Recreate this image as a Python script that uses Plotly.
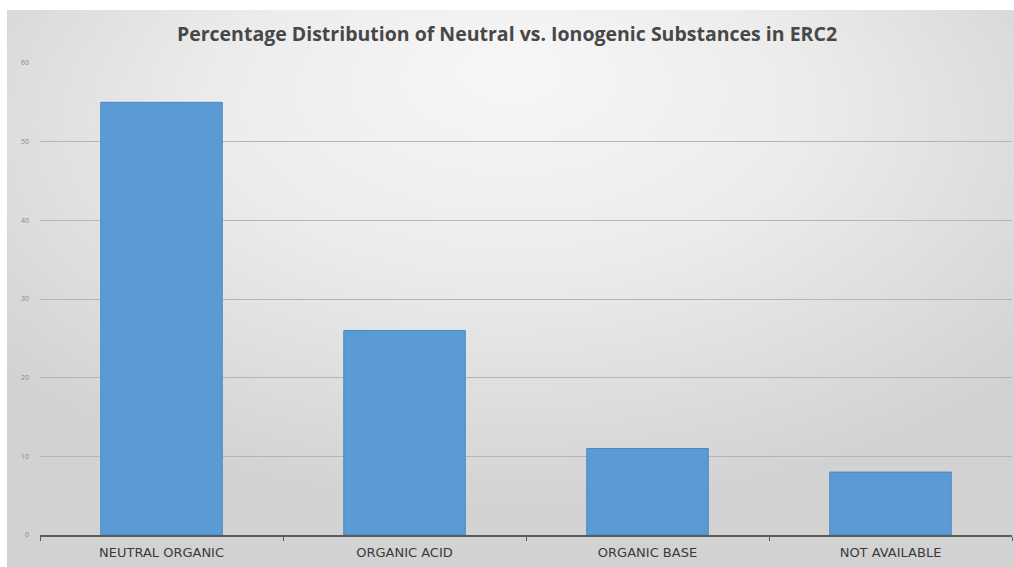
import base64
import plotly.graph_objects as go

# Category data (percent of substances)
categories = ["NEUTRAL ORGANIC", "ORGANIC ACID", "ORGANIC BASE", "NOT AVAILABLE"]
percentages = [55, 26, 11, 8]
y_ticks = [0, 10, 20, 30, 40, 50, 60]

W, H = 1014, 567

# Soft grey radial backdrop for the chart frame
svg = """<svg xmlns='http://www.w3.org/2000/svg' width='1000' height='550' preserveAspectRatio='none' viewBox='0 0 1000 550'>
<defs><radialGradient id='g' cx='50%' cy='25%' r='65%' fx='50%' fy='10%'>
<stop offset='0%' stop-color='#f7f7f7'/>
<stop offset='45%' stop-color='#ececec'/>
<stop offset='100%' stop-color='#d2d2d2'/>
</radialGradient></defs>
<rect x='0' y='0' width='1000' height='550' fill='url(#g)'/>
</svg>"""
bg_src = "data:image/svg+xml;base64," + base64.b64encode(svg.encode()).decode()

fig = go.Figure()
fig.add_trace(go.Bar(
    x=categories,
    y=percentages,
    marker=dict(color="#5b9bd5", line=dict(color="#4a88c2", width=1)),
    width=0.5,
    hoverinfo="x+y",
))

fig.update_layout(
    width=W,
    height=H,
    margin=dict(l=0, r=0, t=0, b=0, autoexpand=False),
    paper_bgcolor="#d3d3d3",
    plot_bgcolor="rgba(0,0,0,0)",
    showlegend=False,
    title=dict(
        text="<b>Percentage Distribution of Neutral vs. Ionogenic Substances in ERC2</b>",
        x=0.5,
        xanchor="center",
        y=1 - 34 / H,
        yanchor="middle",
        font=dict(family="Open Sans", size=19.5, color="#474747"),
    ),
    images=[dict(
        source=bg_src,
        xref="paper", yref="paper",
        x=7 / W, y=1 - 10 / H,
        sizex=1 - 7 / W, sizey=1 - 10 / H,
        xanchor="left", yanchor="top",
        sizing="stretch",
        layer="below",
    )],
    # white page strip above and left of the chart frame
    shapes=[
        dict(type="rect", xref="paper", yref="paper", x0=0, x1=1, y0=1 - 10 / H, y1=1,
             fillcolor="white", line=dict(width=0), layer="below"),
        dict(type="rect", xref="paper", yref="paper", x0=0, x1=7 / W, y0=0, y1=1,
             fillcolor="white", line=dict(width=0), layer="below"),
    ],
    xaxis=dict(
        domain=[40 / W, 1012 / W],
        type="category",
        automargin=False,
        showline=True,
        linecolor="#5a5a5a",
        linewidth=2,
        ticks="outside",
        tickson="boundaries",
        ticklen=4,
        tickcolor="#5a5a5a",
        tickfont=dict(family="DejaVu Sans", size=13, color="#3a3a3a"),
        ticklabelstandoff=4,
        showgrid=False,
    ),
    yaxis=dict(
        domain=[1 - 535 / H, 1 - 63 / H],
        range=[0, 60],
        automargin=False,
        tickvals=y_ticks,
        ticktext=[str(v) for v in y_ticks],
        tickfont=dict(family="Open Sans", size=7, color="#8a8a8a"),
        showgrid=True,
        gridcolor="#b5b5b5",
        gridwidth=1,
        zeroline=False,
        showline=False,
        ticks="",
        ticklabelstandoff=10,
    ),
    bargap=0.5,
)

fig.write_html("out.html")
